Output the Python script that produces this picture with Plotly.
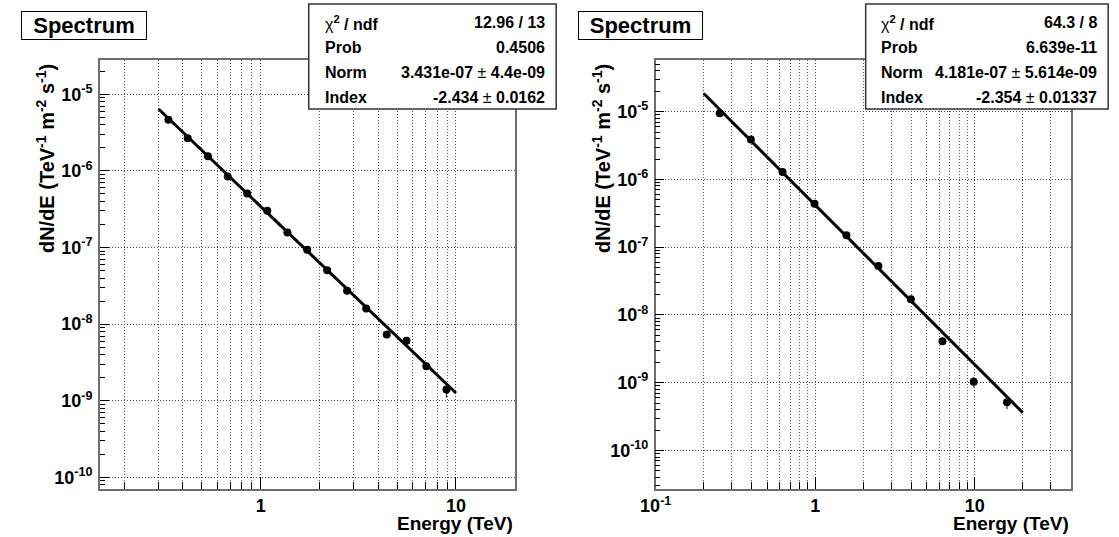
import numpy as np
import plotly.graph_objects as go

# ---------------- data ----------------
left_energy = [0.337, 0.423, 0.537, 0.678, 0.853, 1.08, 1.37, 1.73, 2.19, 2.77, 3.47, 4.42, 5.58, 7.05, 8.94]
left_flux = [4.65e-6, 2.66e-6, 1.55e-6, 8.44e-7, 5.08e-7, 3.03e-7, 1.57e-7, 9.33e-8, 5.05e-8,
             2.73e-8, 1.6e-8, 7.34e-9, 6.08e-9, 2.82e-9, 1.4e-9]
left_err = [1.0e-7, 5.0e-8, 3.0e-8, 1.5e-8, 1.0e-8, 6.0e-9, 3.0e-9, 2.0e-9, 1.1e-9,
            7.0e-10, 5.0e-10, 3.0e-10, 3.5e-10, 2.5e-10, 3.0e-10]
left_norm, left_index = 3.431e-07, -2.434
left_fit_range = [0.3, 10.0]
left_stats = [("chi", "12.96 / 13"), ("Prob", "0.4506"),
              ("Norm", "3.431e-07 ± 4.4e-09"), ("Index", "-2.434 ± 0.0162")]

right_energy = [0.252, 0.395, 0.624, 0.99, 1.57, 2.49, 3.98, 6.28, 9.86, 15.95]
right_flux = [9.45e-6, 3.87e-6, 1.29e-6, 4.36e-7, 1.5e-7, 5.28e-8, 1.7e-8, 4.1e-9, 1.03e-9, 5.14e-10]
right_err = [2.0e-7, 8.0e-8, 2.5e-8, 8.0e-9, 3.0e-9, 1.2e-9, 5.0e-10, 2.5e-10, 1.8e-10, 1.1e-10]
right_norm, right_index = 4.181e-07, -2.354
right_fit_range = [0.2, 20.0]
right_stats = [("chi", "64.3 / 8"), ("Prob", "6.639e-11"),
               ("Norm", "4.181e-07 ± 5.614e-09"), ("Index", "-2.354 ± 0.01337")]

title_text = "Spectrum"
x_title = "Energy (TeV)"
y_title = "dN/dE (TeV<sup>-1</sup> m<sup>-2</sup> s<sup>-1</sup>)"

# ---------------- layout geometry (pixels) ----------------
W, H = 1119, 537
FONT = "Liberation Sans, Arial, Helvetica, sans-serif"
plot_top, plot_bottom = 60, 489
panels = [
    dict(x0=85, x1=506, xr=(0.15, 20.0), yr=(7.06e-11, 2.8e-5), stat=(297, 548), title=(6, 132),
         energy=left_energy, flux=left_flux, err=left_err, norm=left_norm, index=left_index,
         fit=left_fit_range, stats=left_stats, ytitle_x=30, xlabels={1: "1", 10: "10"}),
    dict(x0=649, x1=1070, xr=(0.1, 40.0), yr=(2.7e-11, 5.78e-5), stat=(862, 1108), title=(571, 696),
         energy=right_energy, flux=right_flux, err=right_err, norm=right_norm, index=right_index,
         fit=right_fit_range, stats=right_stats, ytitle_x=594, xlabels={0.1: "10<sup>-1</sup>", 1: "1", 10: "10"}),
]

def px(x):
    return x / W

def py(y):
    return 1 - y / H

fig = go.Figure()
shapes, annotations = [], []
decades = [10.0 ** k for k in range(-12, -3)]
ydecade_text = ["10<sup>%d</sup>" % k for k in range(-12, -3)]
yminor = [m * d for d in decades for m in range(2, 10)]
xmajor_all = [0.01, 0.1, 1.0, 10.0, 100.0]
xminor_all = [m * d for d in xmajor_all for m in range(2, 10)]

for i, p in enumerate(panels):
    n = "" if i == 0 else str(i + 1)
    xa, ya = "x" + n, "y" + n
    # data points
    fig.add_trace(go.Scatter(
        x=p["energy"], y=p["flux"], mode="markers", xaxis=xa, yaxis=ya,
        marker=dict(color="black", size=8, symbol="circle"),
        error_y=dict(type="data", array=p["err"], color="#333333", thickness=1.2, width=0),
        showlegend=False, hoverinfo="x+y"))
    # fit function
    e = np.logspace(np.log10(p["fit"][0]), np.log10(p["fit"][1]), 60)
    fig.add_trace(go.Scatter(
        x=e, y=p["norm"] * e ** p["index"], mode="lines", xaxis=xa, yaxis=ya,
        line=dict(color="black", width=3), showlegend=False, hoverinfo="skip"))

    xticks = [v for v in p["xlabels"]]
    xaxis = dict(
        type="log", range=[np.log10(p["xr"][0]), np.log10(p["xr"][1])],
        domain=[px(p["x0"]), px(p["x1"])], anchor=ya,
        tickmode="array", tickvals=xticks, ticktext=[p["xlabels"][v] for v in xticks],
        ticks="inside", ticklen=12, tickwidth=1, tickcolor="black",
        tickfont=dict(family=FONT, size=18, color="black", weight="bold"),
        ticklabelstandoff=0,
        showgrid=True, gridcolor="#444444", griddash="1px,2px", gridwidth=1,
        minor=dict(tickmode="array", tickvals=xminor_all, ticks="inside", ticklen=7,
                   tickcolor="black", tickwidth=1, showgrid=True, gridcolor="#555555",
                   griddash="1px,2px", gridwidth=1),
        showline=True, linecolor="#6e6e6e", linewidth=1.5, mirror=True,
        zeroline=False, fixedrange=True)
    yaxis = dict(
        type="log", range=[np.log10(p["yr"][0]), np.log10(p["yr"][1])],
        domain=[py(plot_bottom), py(plot_top)], anchor=xa,
        tickmode="array", tickvals=decades, ticktext=ydecade_text,
        ticks="inside", ticklen=9, tickwidth=1, tickcolor="black",
        tickfont=dict(family=FONT, size=18, color="black", weight="bold"),
        ticklabelstandoff=2,
        showgrid=True, gridcolor="#444444", griddash="1px,2px", gridwidth=1,
        minor=dict(tickmode="array", tickvals=yminor, ticks="inside", ticklen=5,
                   tickcolor="black", tickwidth=1, showgrid=False),
        showline=True, linecolor="#6e6e6e", linewidth=1.5, mirror=True,
        zeroline=False, fixedrange=True)
    fig.update_layout({"xaxis" + n: xaxis, "yaxis" + n: yaxis})

    # axis titles
    annotations.append(dict(
        text="<b>%s</b>" % x_title, xref="paper", yref="paper", x=px(p["x1"]), y=py(536),
        xanchor="right", yanchor="bottom", showarrow=False,
        font=dict(family=FONT, size=19, color="black")))
    annotations.append(dict(
        text="<b>%s</b>" % y_title, xref="paper", yref="paper", x=px(p["ytitle_x"]), y=py(62),
        xanchor="center", yanchor="top", textangle=-90, showarrow=False,
        font=dict(family=FONT, size=20, color="black")))

    # title box
    annotations.append(dict(
        text="<b>%s</b>" % title_text, xref="paper", yref="paper",
        x=px((p["title"][0] + p["title"][1]) / 2), y=py(25), xanchor="center", yanchor="middle",
        showarrow=False, width=p["title"][1] - p["title"][0] - 4, height=25, borderpad=1,
        bordercolor="black", borderwidth=1, bgcolor="white",
        font=dict(family=FONT, size=22, color="black")))

    # stats box
    sx0, sx1 = p["stat"]
    shapes.append(dict(type="rect", xref="paper", yref="paper",
                       x0=px(sx0), x1=px(sx1), y0=py(109), y1=py(4),
                       fillcolor="white", line=dict(color="#333333", width=1.5), layer="above"))
    for r, (lab, val) in enumerate(p["stats"]):
        yc = 22.5 + 25 * r
        lab_text = "χ<sup><b>2</b></sup><b> / ndf</b>" if lab == "chi" else "<b>%s</b>" % lab
        annotations.append(dict(
            text=lab_text, xref="paper", yref="paper", x=px(sx0 + 14), y=py(yc),
            xanchor="left", yanchor="middle", showarrow=False,
            font=dict(family=FONT, size=16, color="black")))
        annotations.append(dict(
            text="<b>%s</b>" % val.replace(" ± ", "</b> ± <b>"), xref="paper", yref="paper",
            x=px(sx1 - 9), y=py(yc), xanchor="right", yanchor="middle", showarrow=False,
            font=dict(family=FONT, size=16, color="black")))

fig.update_layout(
    width=W, height=H, margin=dict(l=0, r=0, t=0, b=0),
    paper_bgcolor="white", plot_bgcolor="white",
    shapes=shapes, annotations=annotations, showlegend=False,
    font=dict(family=FONT, color="black"))

fig.write_html("out.html", config={"displayModeBar": False})
